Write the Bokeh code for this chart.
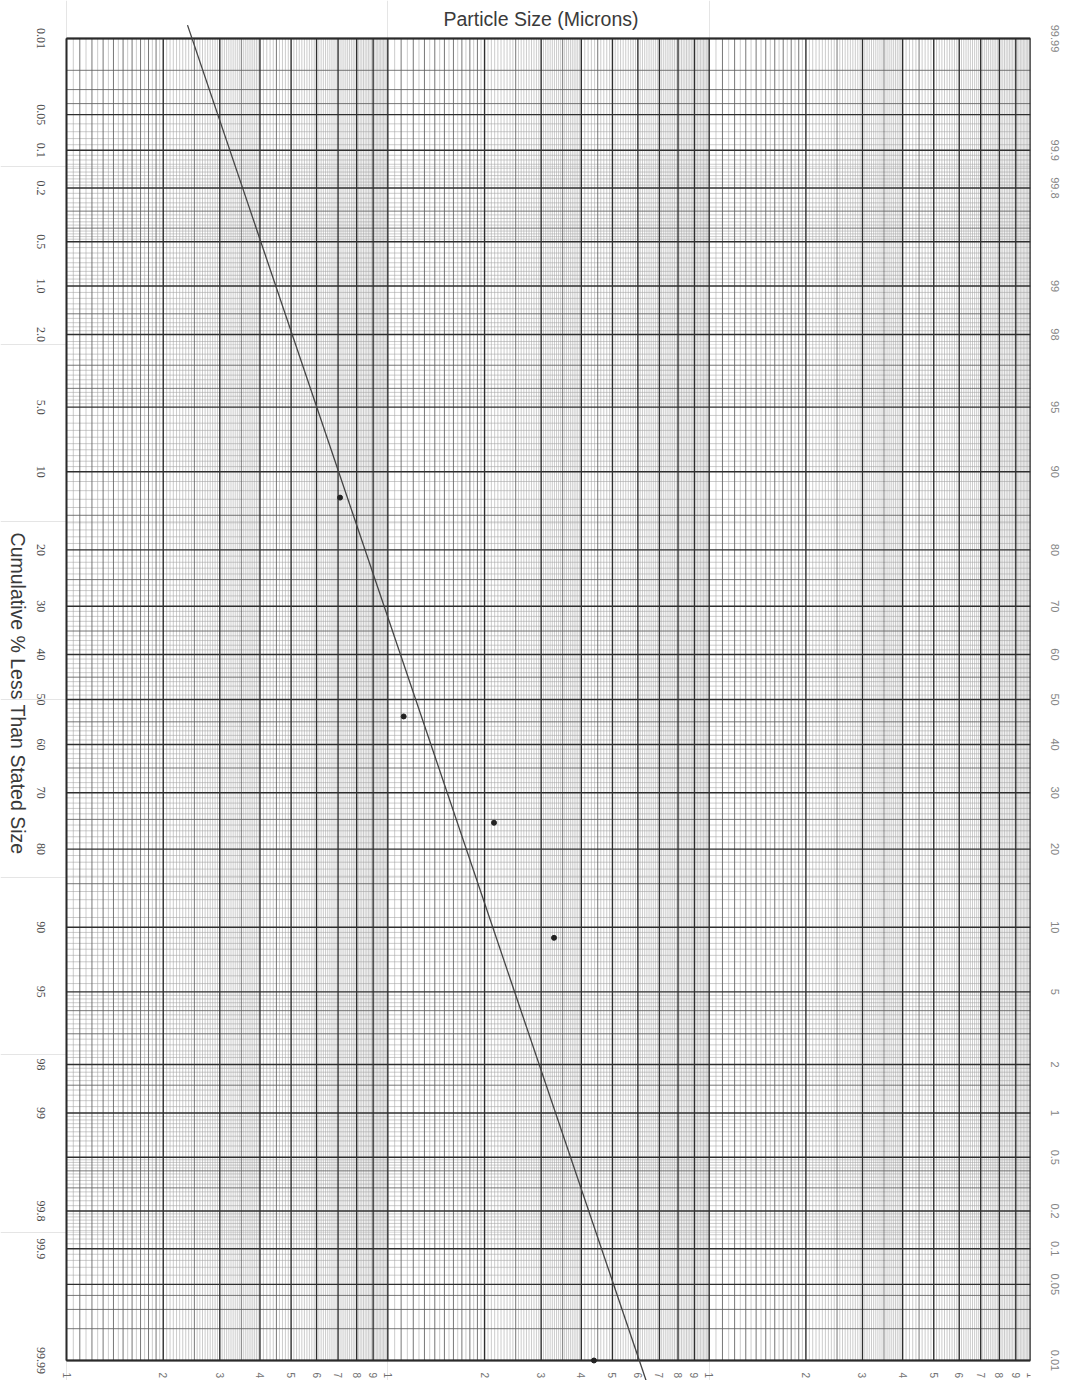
import math
from statistics import NormalDist

from bokeh.plotting import figure
from bokeh.models import (Range1d, LinearAxis, LogAxis, FixedTicker,
                          ColumnDataSource, LabelSet, Label)
from bokeh.embed import file_html
from bokeh.resources import INLINE

# ---------------- data ----------------
sizes_um = [7.1, 11.2, 21.4, 32.9, 43.8]          # particle size (microns)
cum_pct = [12.8, 53.8, 75.6, 91.0, 99.99]         # cumulative % less than size

fit_sizes_um = [2.38, 63.6]                       # drawn straight fit line ends
fit_pct = [0.0074, 99.9936]

left_tick_pct = [0.01, 0.05, 0.1, 0.2, 0.5, 1, 2, 5, 10, 20, 30, 40, 50,
                 60, 70, 80, 90, 95, 98, 99, 99.8, 99.9, 99.99]
left_tick_labels = ["0.01", "0.05", "0.1", "0.2", "0.5", "1.0", "2.0", "5.0",
                    "10", "20", "30", "40", "50", "60", "70", "80", "90",
                    "95", "98", "99", "99.8", "99.9", "99.99"]

right_tick_pct = [99.99, 99.9, 99.8, 99, 98, 95, 90, 80, 70, 60, 50, 40, 30,
                  20, 10, 5, 2, 1, 0.5, 0.2, 0.1, 0.05, 0.01]
right_tick_labels = ["99.99", "99.9", "99.8", "99", "98", "95", "90", "80",
                     "70", "60", "50", "40", "30", "20", "10", "5", "2", "1",
                     "0.5", "0.2", "0.1", "0.05", "0.01"]

size_ticks = [1, 2, 3, 4, 5, 6, 7, 8, 9,
              10, 20, 30, 40, 50, 60, 70, 80, 90,
              100, 200, 300, 400, 500, 600, 700, 800, 900, 1000]
size_tick_labels = ["1", "2", "3", "4", "5", "6", "7", "8", "9",
                    "1", "2", "3", "4", "5", "6", "7", "8", "9",
                    "1", "2", "3", "4", "5", "6", "7", "8", "9", "1"]

# ---------------- probability transform ----------------
_nd = NormalDist()


def z(p):
    return _nd.inv_cdf(p / 100.0)


Z_TOP = z(0.01)
Z_BOT = z(99.99)
PX_PER_Z = 177.7
y_top = Z_TOP - 38 / PX_PER_Z     # room above the 0.01 line for the title
y_bot = Z_BOT + 20 / PX_PER_Z     # room below the 99.99 line for size labels

PX_PER_DECADE = 321.33
LEFT_PAD = 66                     # room left of the paper for the % scale
x_lo = 10 ** (-LEFT_PAD / PX_PER_DECADE)

FONT = "Liberation Sans"

p = figure(width=1062, height=1380, x_axis_type="log",
           x_axis_location=None, y_axis_location=None,
           x_range=Range1d(x_lo, 1000), y_range=Range1d(start=y_bot, end=y_top),
           output_backend="svg", toolbar_location=None,
           min_border_left=0, min_border_right=32, min_border_top=0,
           min_border_bottom=0)
p.outline_line_color = None
p.background_fill_color = "white"
p.border_fill_color = "white"


# ---------------- paper grid ----------------
def steps(a, b, s):
    n = int(round((b - a) / s))
    return [round(a + i * s, 6) for i in range(n + 1)]


major_p_low = [0.01, 0.05, 0.1, 0.2, 0.5, 1, 2, 5, 10, 20, 30, 40]
mid_p_low = [0.02, 0.03, 0.04, 0.3, 0.4, 1.5, 3, 4, 15, 25, 35, 45]
minor_p_low = (steps(0.06, 0.09, 0.01) + steps(0.11, 0.19, 0.01) +
               steps(0.22, 0.48, 0.02) + steps(0.55, 0.95, 0.05) +
               steps(1.1, 1.9, 0.1) + steps(2.2, 4.8, 0.2) +
               steps(5.5, 9.5, 0.5) + steps(11, 49, 1))


def mirror(lst):
    return lst + [round(100 - v, 6) for v in lst]


major_p = set(mirror(major_p_low) + [50])
mid_p = set(mirror(mid_p_low)) - major_p
minor_p = set(mirror(minor_p_low)) - major_p - mid_p

major_x, mid_x, minor_x = set(), set(), set()
for dec in (1, 10, 100):
    for m in range(1, 10):
        major_x.add(round(m * dec, 6))
    for m in steps(1.1, 1.9, 0.1) + [2.5, 3.5, 4.5]:
        mid_x.add(round(m * dec, 6))
    for m in steps(1.05, 3.95, 0.05) + steps(4.1, 9.9, 0.1):
        minor_x.add(round(m * dec, 6))
major_x.add(1000)
mid_x -= major_x
minor_x -= major_x | mid_x


def hlines(ps, color, w):
    ys = [z(v) for v in sorted(ps)]
    p.segment(x0=[1] * len(ys), y0=ys, x1=[1000] * len(ys), y1=ys,
              line_color=color, line_width=w)


def vlines(xs, color, w):
    xs = sorted(xs)
    p.segment(x0=xs, y0=[Z_TOP] * len(xs), x1=xs, y1=[Z_BOT] * len(xs),
              line_color=color, line_width=w)


vlines(minor_x, "#a2a2a2", 0.55)
hlines(minor_p, "#a2a2a2", 0.55)
vlines(mid_x, "#5e5e5e", 0.85)
hlines(mid_p, "#5e5e5e", 0.85)
vlines(major_x, "#2e2e2e", 1.4)
hlines(major_p, "#2e2e2e", 1.4)
# frame border
vlines([1, 1000], "#2a2a2a", 1.8)
hlines([0.01, 99.99], "#2a2a2a", 1.8)

# ---------------- data ----------------
fit_src = ColumnDataSource(dict(size=fit_sizes_um, zz=[z(v) for v in fit_pct]))
p.line("size", "zz", source=fit_src, line_color="#444444", line_width=1.3)

pts = ColumnDataSource(dict(size=sizes_um, pct=cum_pct, zz=[z(v) for v in cum_pct]))
p.scatter("size", "zz", source=pts, size=5, color="#222222")

# ---------------- title ----------------
p.add_layout(Label(x=1, y=Z_TOP, x_offset=377, y_offset=20,
                   text="Particle Size (Microns)",
                   text_align="left", text_baseline="middle",
                   text_font=FONT, text_font_size="19.5px",
                   text_color="#3a3a3a"))

# ---------------- left scale (labels read top-to-bottom, centred) ----------------
left_src = ColumnDataSource(dict(x=[1] * len(left_tick_pct),
                                  y=[z(v) for v in left_tick_pct],
                                  text=left_tick_labels))
p.add_layout(LabelSet(x="x", y="y", text="text", source=left_src,
                      x_offset=-26, angle=-math.pi / 2,
                      text_align="center", text_baseline="middle",
                      text_font=FONT, text_font_size="12px",
                      text_color="#4a4a4a"))
p.add_layout(Label(x=1, y=0, x_offset=-49, y_offset=6, angle=-math.pi / 2,
                   text="Cumulative % Less Than Stated Size",
                   text_align="center", text_baseline="middle",
                   text_font=FONT, text_font_size="19.5px",
                   text_color="#3a3a3a"))

# ---------------- right scale ----------------
right_z = [z(100 - v) for v in right_tick_pct]
ry = LinearAxis(ticker=FixedTicker(ticks=right_z),
                major_label_overrides=dict(zip(right_z, right_tick_labels)),
                major_label_orientation="vertical",
                axis_line_color=None, major_tick_line_color=None,
                minor_tick_line_color=None,
                major_label_standoff=14,
                major_label_text_font=FONT, major_label_text_font_size="11px",
                major_label_text_color="#858585")
p.add_layout(ry, "right")

# ---------------- size scale ----------------
bx = LogAxis(ticker=FixedTicker(ticks=size_ticks),
             major_label_overrides=dict(zip(size_ticks, size_tick_labels)),
             fixed_location=Z_BOT,
             major_label_orientation="vertical",
             axis_line_color=None, major_tick_line_color=None,
             minor_tick_line_color=None,
             major_label_standoff=6,
             major_label_text_font=FONT, major_label_text_font_size="10px",
             major_label_text_color="#707070")
p.add_layout(bx, "below")

open("out.html", "w").write(file_html(p, INLINE))
